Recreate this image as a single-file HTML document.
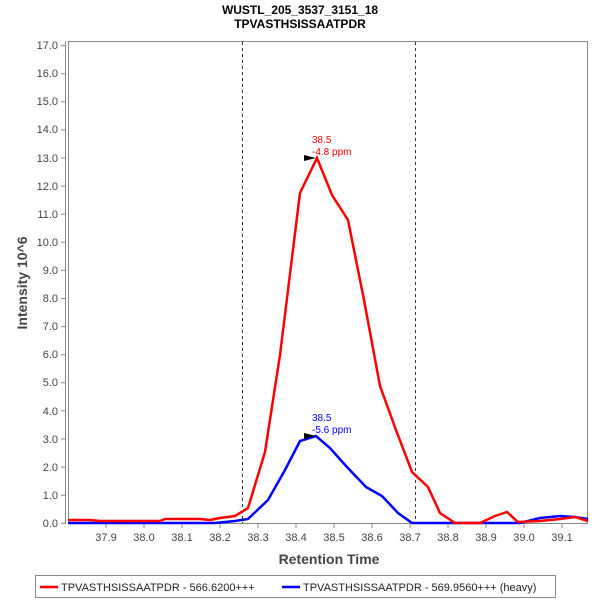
<!DOCTYPE html>
<html><head><style>body{margin:0;background:#fff}svg{display:block;font-family:"Liberation Sans",sans-serif}</style></head><body>
<svg width="600" height="600" viewBox="0 0 600 600">
<rect width="600" height="600" fill="#fff"/>
<text x="300" y="14" text-anchor="middle" font-size="12" font-weight="bold">WUSTL_205_3537_3151_18</text>
<text x="300" y="28" text-anchor="middle" font-size="12" font-weight="bold">TPVASTHSISSAATPDR</text>
<rect x="68.5" y="41.5" width="519" height="482" fill="none" stroke="#888"/>
<line x1="65.5" y1="41" x2="65.5" y2="524" stroke="#888"/>
<g font-size="11" fill="#444" text-anchor="end">
<text x="58" y="527">0.0</text><text x="58" y="499">1.0</text><text x="58" y="471">2.0</text><text x="58" y="443">3.0</text><text x="58" y="415">4.0</text><text x="58" y="386">5.0</text><text x="58" y="358">6.0</text><text x="58" y="330">7.0</text><text x="58" y="302">8.0</text><text x="58" y="274">9.0</text><text x="58" y="246">10.0</text><text x="58" y="218">11.0</text><text x="58" y="190">12.0</text><text x="58" y="162">13.0</text><text x="58" y="133">14.0</text><text x="58" y="105">15.0</text><text x="58" y="77">16.0</text><text x="58" y="49">17.0</text>
</g>
<g stroke="#888"><path d="M61 523.3h4M61 495.2h4M61 467.1h4M61 439h4M61 410.9h4M61 382.8h4M61 354.7h4M61 326.6h4M61 298.5h4M61 270.4h4M61 242.3h4M61 214.2h4M61 186.1h4M61 158h4M61 129.9h4M61 101.8h4M61 73.7h4M61 45.6h4"/>
<path d="M106 524v4M144 524v4M182 524v4M220 524v4M258 524v4M296 524v4M334 524v4M372 524v4M410 524v4M448 524v4M486 524v4M524 524v4M562 524v4"/></g>
<g font-size="11" fill="#444" text-anchor="middle">
<text x="106" y="541">37.9</text><text x="144" y="541">38.0</text><text x="182" y="541">38.1</text><text x="220" y="541">38.2</text><text x="258" y="541">38.3</text><text x="296" y="541">38.4</text><text x="334" y="541">38.5</text><text x="372" y="541">38.6</text><text x="410" y="541">38.7</text><text x="448" y="541">38.8</text><text x="486" y="541">38.9</text><text x="524" y="541">39.0</text><text x="562" y="541">39.1</text>
</g>
<text x="329" y="564" text-anchor="middle" font-size="14" font-weight="bold" fill="#444">Retention Time</text>
<text transform="translate(27,283) rotate(-90)" text-anchor="middle" font-size="14" font-weight="bold" fill="#444">Intensity 10^6</text>
<g stroke="#333" stroke-dasharray="3,3"><line x1="242.5" y1="42" x2="242.5" y2="523"/><line x1="415.5" y1="42" x2="415.5" y2="523"/></g>
<polyline fill="none" stroke="#00f" stroke-width="2.5" points="68,523 215,523 235,521 248,519 268,500 285,470 300,441 316,436 330,448 346,466 366,487 382,496 398,513 412,523 520,523 540,518 560,516 575,517 588,519"/>
<polyline fill="none" stroke="#f00" stroke-width="2.5" points="68,520 90,520 100,521 160,521 165,519 200,519 210,520 220,518 235,516 248,508 265,452 280,355 300,193 317,158 332,195 348,220 364,300 380,386 396,430 412,472 428,487 440,513 455,523 480,523 495,516 507,512 518,522 540,521 560,519 575,517 588,521"/>
<path d="M304 155l12 3-12 3z" fill="#000"/><path d="M304 433l12 3-12 3z" fill="#000"/>
<g font-size="10" fill="#f00"><text x="312" y="143">38.5</text><text x="312" y="155">-4.8 ppm</text></g>
<g font-size="10" fill="#00f"><text x="312" y="421">38.5</text><text x="312" y="433">-5.6 ppm</text></g>
<rect x="35.5" y="575.5" width="520" height="22" fill="#fff" stroke="#888"/>
<line x1="40" y1="587" x2="58" y2="587" stroke="#f00" stroke-width="2.5"/>
<line x1="282" y1="587" x2="300" y2="587" stroke="#00f" stroke-width="2.5"/>
<g font-size="11" fill="#222"><text x="61" y="591">TPVASTHSISSAATPDR - 566.6200+++</text><text x="303" y="591">TPVASTHSISSAATPDR - 569.9560+++ (heavy)</text></g>
</svg></body></html>
